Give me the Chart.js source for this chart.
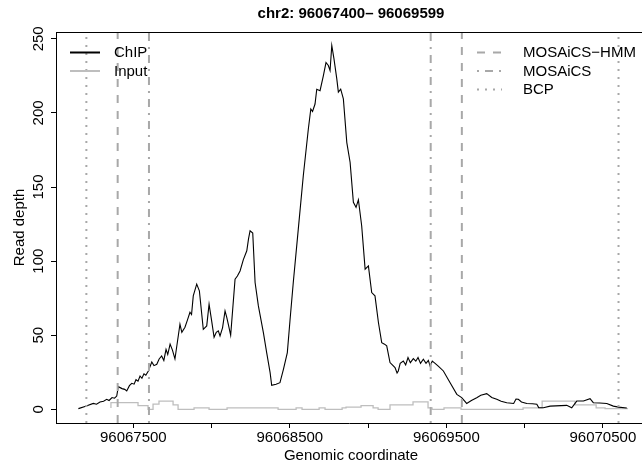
<!DOCTYPE html>
<html>
<head>
<meta charset="utf-8">
<script src="https://cdn.jsdelivr.net/npm/chart.js@4/dist/chart.umd.min.js"></script>
<style>
  html, body { margin: 0; padding: 0; background: #fff; overflow: hidden; }
  canvas { display: block; }
</style>
</head>
<body>
<canvas id="c" width="642" height="466"></canvas>
<script>
// ---------------- data ----------------
const chartTitle = 'chr2: 96067400\u2013 96069599';
const xAxisTitle = 'Genomic coordinate';
const yAxisTitle = 'Read depth';

const chipX = [96067149,96067191,96067244,96067265,96067287,96067310,96067330,96067345,96067364,96067380,
  96067394,96067404,96067428,96067445,96067458,96067475,96067490,96067505,96067517,96067530,
  96067543,96067555,96067568,96067580,96067596,96067618,96067632,96067650,96067665,96067681,
  96067695,96067709,96067720,96067735,96067750,96067766,96067798,96067810,96067830,96067845,
  96067862,96067872,96067883,96067905,96067922,96067947,96067969,96067984,96068000,96068016,
  96068030,96068043,96068054,96068070,96068086,96068097,96068107,96068122,96068150,96068165,
  96068182,96068203,96068225,96068236,96068246,96068263,96068278,96068299,96068331,96068352,
  96068374,96068384,96068412,96068437,96068459,96068484,96068501,96068522,96068554,96068586,
  96068618,96068634,96068645,96068661,96068672,96068693,96068714,96068731,96068746,96068757,
  96068768,96068782,96068800,96068810,96068825,96068842,96068864,96068885,96068906,96068923,
  96068938,96068959,96068981,96069002,96069023,96069044,96069066,96069087,96069105,96069119,
  96069140,96069155,96069172,96069185,96069193,96069205,96069225,96069240,96069255,96069270,
  96069289,96069305,96069319,96069335,96069353,96069370,96069385,96069396,96069410,96069428,
  96069450,96069481,96069524,96069567,96069598,96069630,96069660,96069694,96069720,96069758,
  96069790,96069822,96069850,96069886,96069930,96069945,96069960,96069980,96070014,96070050,
  96070078,96070090,96070120,96070163,96070269,96070301,96070333,96070376,96070418,96070439,
  96070480,96070525,96070567,96070600,96070653];
const chipY = [0.5,2,4,3.5,5,5.5,6.8,6,8,7.5,
  9,15.3,14,13.5,12.4,16,17.6,17,20,19,
  22.5,21,24,23,25.9,32,29.5,30.4,34,36,
  33,40.5,37,44,40,34,57.4,52,55.4,60,
  65.5,64,76.6,84.5,80,54,56.3,71,60,48.6,
  52,53,49.5,55,66.4,62,57.4,50,87.8,90,
  93.4,101,107,115,120.5,119,85.6,69.8,51.8,38.3,
  24.8,16.2,17,18,27,38.3,60,85.6,121.6,157.6,
  189,202.7,201,206,216,215,225,234,232,228.6,
  245.5,236.5,223,214,216,209.5,180,166.7,139.7,136.3,
  141.4,123.9,94.6,96.8,78.8,76.6,58.6,45,44,42.8,
  31.6,30,28.2,24.5,25.9,31,32.6,30,35,31.5,
  34.2,32.5,35,31,33.8,31,33,29.3,32.5,31,
  29,25.9,18,10.1,7.9,4,6,7.9,9.5,10.6,
  8,6.8,5.5,4.5,4,7,6.8,5,4,3.8,
  3.4,1.2,1.1,2.2,2.7,1.1,5.6,5.6,7.2,4.5,
  4.3,4,2.2,1.5,0.9];

const inputX = [96067357,96067530,96067594,96067626,96067664,96067754,96067786,96067888,96067984,96068099,
  96068425,96068540,96068578,96068687,96068725,96068834,96068859,96068955,96069032,96069064,
  96069140,96069287,96069383,96069409,96069485,96069594,96069990,96070112,96070322,96070457,
  96070514,96070578,96070661];
const inputY = [1,4.5,2.5,0,3.5,5.5,3,0,1,0,
  1,0,1,0,1,0,1,1.5,2.5,1,
  0,3,5,1,0,1,0,1,5.5,3,
  1,0.5,0.5];

const hmmX = [96067400, 96069599];      // MOSAiCS-HMM
const mosaicsX = [96067600, 96069400];  // MOSAiCS
const bcpX = [96067200, 96070600];      // BCP

const xTicks = [96067500,96068000,96068500,96069000,96069500,96070000,96070500];
const xTickLabels = ['96067500','','96068500','','96069500','','96070500'];
const yTicks = [0,50,100,150,200,250];
const yTickLabels = ['0','50','100','150','200','250'];

const legendLeft = ['ChIP','Input'];
const legendRight = ['MOSAiCS\u2212HMM','MOSAiCS','BCP'];

// axis limits
const XMIN = 96067006, XMAX = 96070750;
const YMIN = -9.2, YMAX = 254.6;

// ---------------- helpers ----------------
const FONT = '"Liberation Sans", Arial, Helvetica, sans-serif';
function pts(xs, ys) { return xs.map((x, i) => ({x: x, y: ys[i]})); }
function vlines(xs) {
  const out = [];
  xs.forEach((x, i) => {
    if (i > 0) out.push({x: x, y: null});
    out.push({x: x, y: YMIN}, {x: x, y: YMAX});
  });
  return out;
}
const VCOL = '#a8a8a8';
const styles = {
  hmm: [8, 8],
  mosaics: [2, 6, 8, 6],
  bcp: [2, 6]
};

const textPlugin = {
  id: 'rtext',
  afterDraw(chart) {
    const ctx = chart.ctx;
    const ca = chart.chartArea;
    const xs = chart.scales.x, ys = chart.scales.y;
    ctx.save();
    // top border of box
    ctx.strokeStyle = '#000';
    ctx.lineWidth = 1;
    ctx.beginPath();
    ctx.moveTo(ca.left, Math.round(ca.top) + 0.5);
    ctx.lineTo(chart.width, Math.round(ca.top) + 0.5);
    ctx.stroke();

    ctx.fillStyle = '#000';
    // title
    ctx.font = 'bold 15px ' + FONT;
    ctx.textAlign = 'center';
    ctx.textBaseline = 'alphabetic';
    ctx.fillText(chartTitle, 351, 18);

    // x tick labels
    ctx.font = '15px ' + FONT;
    xTicks.forEach((v, i) => {
      if (xTickLabels[i]) ctx.fillText(xTickLabels[i], xs.getPixelForValue(v), 441.5);
    });
    // x axis title
    ctx.fillText(xAxisTitle, 351, 460);

    // y tick labels (rotated)
    yTicks.forEach((v, i) => {
      const py = ys.getPixelForValue(v);
      ctx.save();
      ctx.translate(43, py);
      ctx.rotate(-Math.PI / 2);
      ctx.fillText(yTickLabels[i], 0, 0);
      ctx.restore();
    });
    // y axis title
    ctx.save();
    ctx.translate(24, (ca.top + ca.bottom) / 2);
    ctx.rotate(-Math.PI / 2);
    ctx.fillText(yAxisTitle, 0, 0);
    ctx.restore();

    // legends
    ctx.textAlign = 'left';
    ctx.textBaseline = 'middle';
    const rowsY = [52.5, 71, 89.5];
    const leftCols = ['#000', '#bebebe'];
    legendLeft.forEach((t, i) => {
      ctx.strokeStyle = leftCols[i];
      ctx.lineWidth = 2;
      ctx.setLineDash([]);
      ctx.beginPath();
      ctx.moveTo(70, rowsY[i]);
      ctx.lineTo(100, rowsY[i]);
      ctx.stroke();
      ctx.fillText(t, 114, rowsY[i] + 0.5);
    });
    const dashes = [styles.hmm, styles.mosaics, styles.bcp];
    legendRight.forEach((t, i) => {
      ctx.strokeStyle = VCOL;
      ctx.lineWidth = 2;
      ctx.setLineDash(dashes[i]);
      ctx.beginPath();
      ctx.moveTo(477, rowsY[i]);
      ctx.lineTo(502, rowsY[i]);
      ctx.stroke();
      ctx.setLineDash([]);
      ctx.fillText(t, 523, rowsY[i] + 0.5);
    });
    ctx.restore();
  }
};

new Chart(document.getElementById('c'), {
  type: 'line',
  data: {
    datasets: [
      { label: 'MOSAiCS-HMM', data: vlines(hmmX), borderColor: VCOL, borderWidth: 2,
        borderDash: styles.hmm, pointRadius: 0, spanGaps: false, order: 0 },
      { label: 'MOSAiCS', data: vlines(mosaicsX), borderColor: VCOL, borderWidth: 2,
        borderDash: styles.mosaics, pointRadius: 0, spanGaps: false, order: 0 },
      { label: 'BCP', data: vlines(bcpX), borderColor: VCOL, borderWidth: 2,
        borderDash: styles.bcp, pointRadius: 0, spanGaps: false, order: 0 },
      { label: 'ChIP', data: pts(chipX, chipY), borderColor: '#000', borderWidth: 1.1,
        pointRadius: 0, tension: 0, order: 1 },
      { label: 'Input', data: pts(inputX, inputY), borderColor: '#bebebe', borderWidth: 1.3,
        pointRadius: 0, stepped: 'after', order: 2 }
    ]
  },
  options: {
    responsive: false,
    animation: false,
    events: [],
    layout: { padding: { top: 32, left: 0, right: 0, bottom: 0 } },
    plugins: { legend: { display: false }, title: { display: false }, tooltip: { enabled: false } },
    scales: {
      x: {
        type: 'linear', min: XMIN, max: XMAX,
        afterBuildTicks(s) { s.ticks = xTicks.map(v => ({ value: v })); },
        afterFit(s) { s.height = 43; },
        ticks: { display: false },
        grid: { drawOnChartArea: false, drawTicks: true, tickLength: 5, color: '#000', lineWidth: 1 },
        border: { display: true, color: '#000', width: 1 }
      },
      y: {
        type: 'linear', min: YMIN, max: YMAX,
        afterBuildTicks(s) { s.ticks = yTicks.map(v => ({ value: v })); },
        afterFit(s) { s.width = 56; },
        ticks: { display: false },
        grid: { drawOnChartArea: false, drawTicks: true, tickLength: 5, color: '#000', lineWidth: 1 },
        border: { display: true, color: '#000', width: 1 }
      }
    }
  },
  plugins: [textPlugin]
});
</script>
</body>
</html>
